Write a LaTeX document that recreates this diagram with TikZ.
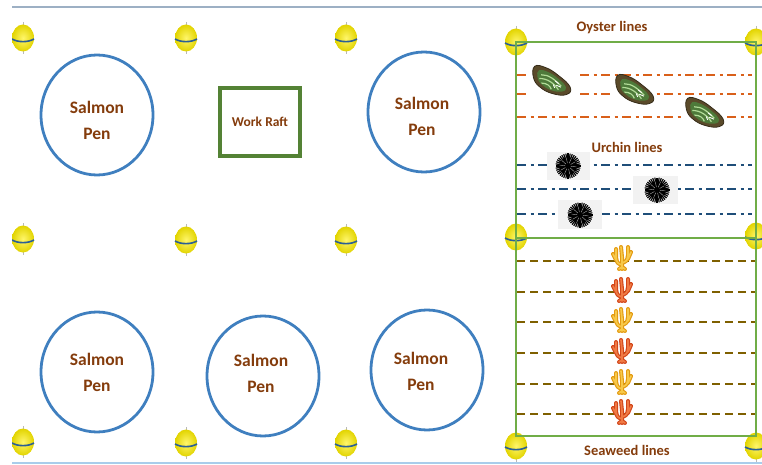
\documentclass[tikz,border=0pt]{standalone}
\usepackage{fontspec}
\setmainfont{Carlito}
\usetikzlibrary{shapes.geometric}

\definecolor{labelbrown}{HTML}{843C0C}
\definecolor{penblue}{HTML}{3F7FBF}
\definecolor{raftgreen}{HTML}{548235}
\definecolor{farmgreen}{HTML}{70AD47}
\definecolor{oysterline}{HTML}{D9601A}
\definecolor{urchinline}{HTML}{1F4E79}
\definecolor{seaweedline}{HTML}{7F6000}
\definecolor{topline}{HTML}{9DB0C4}
\definecolor{bottomline}{HTML}{A9CDEB}
\definecolor{buoyyellow}{HTML}{E2D400}
\definecolor{buoylight}{HTML}{FFF66A}
\definecolor{buoyband}{HTML}{2A5F96}
\definecolor{oysterrim}{HTML}{5A4A2A}
\definecolor{oysterbody}{HTML}{4E7A3A}
\definecolor{oysterlight}{HTML}{B2DC98}
\definecolor{urchinbg}{HTML}{F2F2F2}
\definecolor{weedgoldout}{HTML}{E39A12}
\definecolor{weedgoldin}{HTML}{F7C94A}
\definecolor{weedredout}{HTML}{D2461A}
\definecolor{weedredin}{HTML}{F07A44}

\tikzset{
  pen/.style={ellipse, draw=penblue, line width=2.8, minimum width=112, minimum height=120, inner sep=0},
  pentext/.style={text=labelbrown, font=\fontsize{17.5}{26}\selectfont\bfseries, align=center, inner sep=0},
  raft/.style={draw=raftgreen, line width=4, minimum width=80, minimum height=68, inner sep=0},
  rafttext/.style={text=labelbrown, font=\fontsize{13.5}{16}\selectfont\bfseries, inner sep=0},
  farmlabel/.style={text=labelbrown, font=\fontsize{14.5}{17}\selectfont\bfseries, inner sep=0},
  farmframe/.style={draw=farmgreen, line width=2.4},
  oysterrope/.style={draw=oysterline, line width=2.6, dash pattern=on 9pt off 4.5pt on 3pt off 4.5pt},
  urchinrope/.style={draw=urchinline, line width=2.6, dash pattern=on 9pt off 4.5pt on 3pt off 4.5pt},
  seaweedrope/.style={draw=seaweedline, line width=2.6, dash pattern=on 8pt off 5pt},
  pics/buoy/.style={code={
    \draw[gray!55, line width=0.7] (0,-16) -- (0,16);
    \shade[inner color=buoylight, outer color=buoyyellow] (0,0) ellipse (11 and 13.5);
    \draw[buoyband, line width=1.6] (-11,1) .. controls (-5,4.5) and (5,4.5) .. (11,1);
  }},
  pics/oyster/.style={code={
    \filldraw[fill=oysterrim, draw=oysterrim!60!black, line width=0.8]
      plot[smooth cycle, tension=0.75] coordinates {(-19,-11) (-8,-12) (6,-7) (20,2) (18,10) (4,12) (-10,8) (-18,0)};
    \fill[oysterbody]
      plot[smooth cycle, tension=0.75] coordinates {(-14,-8) (-4,-8) (8,-3) (16,3) (13,8) (2,9) (-9,5) (-14,-1)};
    \draw[oysterlight, line width=1.2] (-11,-4) .. controls (-4,-6) and (4,-2) .. (11,3);
    \draw[oysterlight, line width=1.2] (-12,0) .. controls (-4,-2) and (4,2) .. (9,7);
    \draw[oysterlight, line width=1.2] (-9,4) .. controls (-3,3) and (0,5) .. (2,8);
    \draw[white, line width=0.9] (4,-1) -- (8,1) (6,3) -- (11,4) (3,3) -- (5,6);
  }},
  pics/urchin/.style={code={
    \foreach \a in {0,10,...,350} \draw[black, line width=1.2] (0,0) -- (\a:12.5);
    \fill[black] (0,0) circle (9);
    \foreach \a in {6,42,...,330} \draw[gray!70, line width=0.4] (\a:3) -- (\a:8.5);
  }},
  pics/seaweed/.style n args={2}{code={
    \draw[#1, line width=4, line cap=round, line join=round]
      (0,11) -- (0,-1) (0,7) .. controls (-5,5) .. (-6,-1) -- (-6,-9)
      (0,5) .. controls (5,3) .. (6,-3) -- (6,-11) (0,-1) -- (-1,-11)
      (6,1) -- (9,-6) (-6,2) -- (-9,-4) (0,9) -- (3,11) (0,9) -- (-3,11);
    \draw[#2, line width=1.7, line cap=round, line join=round]
      (0,11) -- (0,-1) (0,7) .. controls (-5,5) .. (-6,-1) -- (-6,-9)
      (0,5) .. controls (5,3) .. (6,-3) -- (6,-11) (0,-1) -- (-1,-11)
      (6,1) -- (9,-6) (-6,2) -- (-9,-4) (0,9) -- (3,11) (0,9) -- (-3,11);
  }},
}

\begin{document}
\begin{tikzpicture}[x=1pt, y=-1pt]
\useasboundingbox (0,0) rectangle (762,465);

% frame lines along the top and bottom
\draw[topline, line width=1.3] (12,7) -- (762,7);
\draw[bottomline, line width=1.6] (12,463) -- (762,463);

% mooring buoys
\begin{scope}
  \clip (12,8) rectangle (762,462);
  \foreach \bx/\by in {23/38, 23/239, 23/442,
                        186/38, 186/240, 186/443,
                        346/38, 346/240, 346/443,
                        516/42, 516/237, 516/446,
                        756/42, 756/236, 756/446}
    \pic at (\bx,\by) {buoy};
\end{scope}

% salmon pens and work raft
\node[pen] (pen1) at (97,115) {};
\node[pen] (pen2) at (424,112) {};
\node[pen] (pen3) at (97,372) {};
\node[pen] (pen4) at (263,376) {};
\node[pen] (pen5) at (427,370) {};
\node[pentext] (pen1t) at (97,120) {Salmon\\Pen};
\node[pentext] (pen2t) at (422,116) {Salmon\\Pen};
\node[pentext] (pen3t) at (97,372) {Salmon\\Pen};
\node[pentext] (pen4t) at (261,373) {Salmon\\Pen};
\node[pentext] (pen5t) at (421,371) {Salmon\\Pen};

\node[raft] (raft) at (260,122) {};
\node[rafttext] (raftt) at (260,122) {Work Raft};

% shellfish and seaweed farm
\node[farmlabel] (oysterlbl) at (612,28) {Oyster lines};
\node[farmlabel] (urchinlbl) at (627,147) {Urchin lines};
\node[farmlabel] (seaweedlbl) at (627,450) {Seaweed lines};

\foreach \ly in {75,94,117}
  \draw[oysterrope] (517,\ly) -- (752,\ly);
\foreach \ly in {165,189,214}
  \draw[urchinrope] (517,\ly) -- (752,\ly);
\foreach \ly in {261,292,322,353,384,414}
  \draw[seaweedrope] (517,\ly) -- (756,\ly);

% oysters on their ropes
\fill[white] (527,64) rectangle (577,100);
\fill[white] (612,78) rectangle (656,106);
\fill[white] (683,99) rectangle (725,128);
\pic[rotate=-12] at (551,81) {oyster};
\pic[rotate=-12] at (634,90) {oyster};
\pic[rotate=-12] at (704,113) {oyster};

% urchins on their ropes
\fill[urchinbg] (547,152) rectangle (590,180);
\fill[urchinbg] (633,176) rectangle (678,204);
\fill[urchinbg] (558,200) rectangle (602,229);
\pic at (568,166) {urchin};
\pic at (657,190) {urchin};
\pic at (580,215) {urchin};

% seaweed on its ropes
\pic at (622,258) {seaweed={weedgoldout}{weedgoldin}};
\pic at (622,290) {seaweed={weedredout}{weedredin}};
\pic at (622,320) {seaweed={weedgoldout}{weedgoldin}};
\pic at (622,351) {seaweed={weedredout}{weedredin}};
\pic at (622,382) {seaweed={weedgoldout}{weedgoldin}};
\pic at (622,412) {seaweed={weedredout}{weedredin}};

% farm frames
\draw[farmframe] (516,42) rectangle (756,238);
\draw[farmframe] (516,238) rectangle (756,436);
\end{tikzpicture}
\end{document}
